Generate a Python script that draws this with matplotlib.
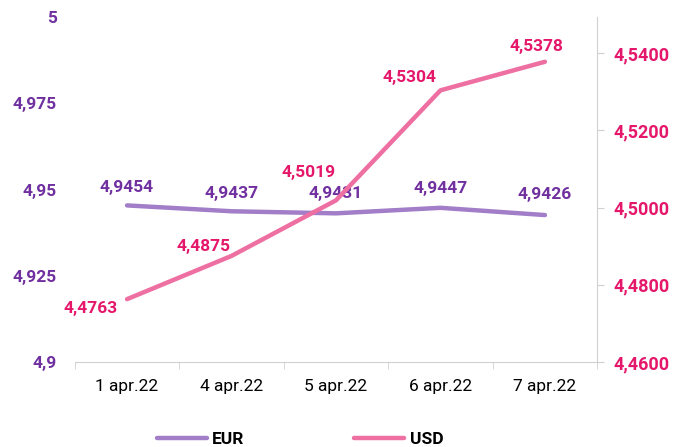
import matplotlib
matplotlib.use("Agg")
import matplotlib.pyplot as plt
import numpy as np

DATES = ["1 apr.22", "4 apr.22", "5 apr.22", "6 apr.22", "7 apr.22"]
EUR = [4.9454, 4.9437, 4.9431, 4.9447, 4.9426]
USD = [4.4763, 4.4875, 4.5019, 4.5304, 4.5378]
EUR_TICKS = [4.9, 4.925, 4.95, 4.975, 5.0]
USD_TICKS = [4.46, 4.48, 4.50, 4.52, 4.54]

EUR_LINE, EUR_TEXT = "#A27DC8", "#7030A0"
USD_LINE, USD_TEXT = "#EE6FA1", "#E5176B"
GRID = "#D0D0D0"
FS = 12.5

# label offsets in points (dx, dy)
EUR_OFF = [(0, 13), (0, 13), (0, 14), (0, 14), (0, 15)]
USD_OFF = [(-26, -7), (-20, 7), (-20, 20), (-22, 9), (-6, 11)]

plt.rcParams.update({"font.family": ["Roboto", "DejaVu Sans"], "font.size": FS})


def fmt(v, nd):
    return f"{v:.{nd}f}".replace(".", ",")


fig = plt.figure(figsize=(6.74, 4.47), dpi=100)
ax = fig.add_axes([0.111, 0.19, 0.775, 0.772])
ax2 = ax.twinx()

x = np.arange(len(DATES))
l1, = ax.plot(x, EUR, color=EUR_LINE, lw=3.2, solid_capstyle="round")
l2, = ax2.plot(x, USD, color=USD_LINE, lw=3.2, solid_capstyle="round")

ax.set_xlim(-0.5, len(DATES) - 0.5)
ax.set_ylim(4.9, 5.0)
ax2.set_ylim(4.46, 4.5494)

ax.set_yticks(EUR_TICKS)
ax.set_yticklabels([fmt(v, 3).rstrip("0").rstrip(",") if v != 5.0 else "5" for v in EUR_TICKS],
                   color=EUR_TEXT, fontweight="bold", fontsize=FS)
ax.tick_params(axis="y", length=0, pad=13)
ax2.set_yticks(USD_TICKS)
ax2.set_yticklabels([fmt(v, 4) for v in USD_TICKS], color=USD_TEXT,
                    fontweight="bold", fontsize=13)
ax2.tick_params(axis="y", length=5, color=GRID, pad=7)

ax.set_xticks(np.arange(len(DATES) + 1) - 0.5, minor=True)
ax.set_xticks(x)
ax.set_xticklabels(DATES, fontsize=FS)
ax.tick_params(axis="x", which="major", length=0, pad=12)
ax.tick_params(axis="x", which="minor", length=5, color=GRID)

for a in (ax, ax2):
    for s in ("top", "left"):
        a.spines[s].set_visible(False)
    a.spines["bottom"].set_color(GRID)
    a.spines["right"].set_color(GRID)
ax.spines["right"].set_visible(False)
ax2.spines["bottom"].set_visible(False)

for i, v in enumerate(EUR):
    ax.annotate(fmt(v, 4), (x[i], v), xytext=EUR_OFF[i], textcoords="offset points",
                ha="center", va="center", color=EUR_TEXT, fontweight="bold", fontsize=FS)
for i, v in enumerate(USD):
    ax2.annotate(fmt(v, 4), (x[i], v), xytext=USD_OFF[i], textcoords="offset points",
                 ha="center", va="center", color=USD_TEXT, fontweight="bold", fontsize=FS)

leg = fig.legend([l1, l2], ["EUR", "USD"], loc="lower center", ncol=2,
                 bbox_to_anchor=(0.445, -0.035), frameon=False, handlelength=2.9,
                 columnspacing=6.3, handletextpad=0.3,
                 prop={"weight": "bold", "size": FS})

fig.savefig("out.png", dpi=100)
